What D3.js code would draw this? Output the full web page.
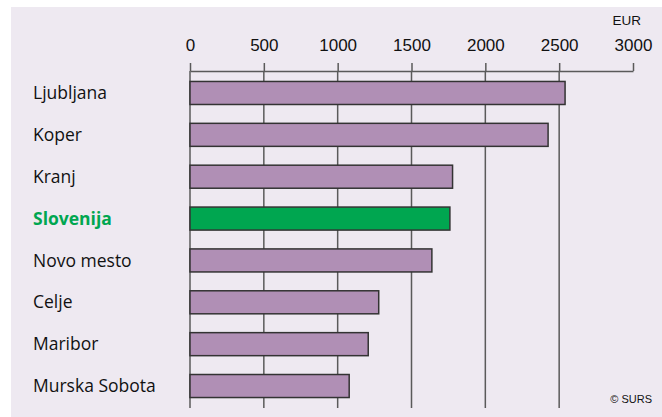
<!DOCTYPE html>
<html>
<head>
<meta charset="utf-8">
<script src="https://cdn.jsdelivr.net/npm/d3@7"></script>
<style>
  body { margin: 0; background: #fff; }
  .cat { font-family: "Open Sans", "Noto Sans", sans-serif; font-size: 17.5px; fill: #111; }
  .tick-label { font-family: "Liberation Sans", Arial, sans-serif; font-size: 17px; fill: #111; }
</style>
</head>
<body>
<svg id="chart" width="662" height="417"></svg>
<script>
// ----------

const CATEGORIES = ["Ljubljana", "Koper", "Kranj", "Slovenija", "Novo mesto", "Celje", "Maribor", "Murska Sobota"];
const VALUES = [2540, 2425, 1778, 1760, 1638, 1278, 1207, 1078];
const TICKS = [0, 500, 1000, 1500, 2000, 2500, 3000];
const HIGHLIGHT = "Slovenija";

const PANEL_COLOR = "#eee9f1";
const BAR_COLOR = "#b08fb5";
const HIGHLIGHT_COLOR = "#00a650";
const LINE_COLOR = "#5a5a5a";

// ----------

const svg = d3.select("#chart");

svg.append("rect")
  .attr("x", 11).attr("y", 7)
  .attr("width", 651).attr("height", 410)
  .attr("fill", PANEL_COLOR);

const x = d3.scaleLinear().domain([0, 3000]).range([190, 633]);
const y = d3.scaleBand().domain(CATEGORIES).range([71, 408]).paddingInner(0.45).paddingOuter(0.25);

const axisY = 71;
const gridBottom = 408;

// gridlines (not at 3000)
svg.append("g")
  .selectAll("line")
  .data(TICKS.filter(t => t < 3000))
  .join("line")
  .attr("x1", d => x(d)).attr("x2", d => x(d))
  .attr("y1", axisY).attr("y2", gridBottom)
  .attr("stroke", LINE_COLOR)
  .attr("stroke-width", 1.5);

// axis on top
const axis = d3.axisTop(x).tickValues(TICKS).tickFormat(d3.format("d"))
  .tickSize(8).tickSizeOuter(0).tickPadding(12);
const gAxis = svg.append("g").attr("transform", `translate(0,${axisY})`).call(axis);
gAxis.select(".domain").attr("stroke", LINE_COLOR).attr("stroke-width", 1.5);
gAxis.selectAll(".tick line").attr("stroke", LINE_COLOR).attr("stroke-width", 1.5);
gAxis.selectAll(".tick text")
  .attr("class", "tick-label")
  .attr("font-family", null).attr("font-size", null);

svg.append("text")
  .attr("x", 641).attr("y", 25)
  .attr("text-anchor", "end")
  .attr("font-family", "Liberation Sans, Arial, sans-serif")
  .attr("font-size", 13.5)
  .attr("fill", "#111")
  .text("EUR");

// bars
svg.append("g")
  .selectAll("rect")
  .data(CATEGORIES)
  .join("rect")
  .attr("x", x(0))
  .attr("y", d => y(d))
  .attr("width", (d, i) => x(VALUES[i]) - x(0))
  .attr("height", y.bandwidth())
  .attr("fill", d => d === HIGHLIGHT ? HIGHLIGHT_COLOR : BAR_COLOR)
  .attr("stroke", "#333")
  .attr("stroke-width", 1.5);

// category labels
svg.append("g")
  .selectAll("text")
  .data(CATEGORIES)
  .join("text")
  .attr("class", "cat")
  .attr("x", 33)
  .attr("y", d => y(d) + y.bandwidth() / 2)
  .attr("dy", "0.35em")
  .attr("font-weight", d => d === HIGHLIGHT ? "bold" : null)
  .style("fill", d => d === HIGHLIGHT ? HIGHLIGHT_COLOR : null)
  .text(d => d);

svg.append("text")
  .attr("x", 652).attr("y", 403)
  .attr("text-anchor", "end")
  .attr("font-family", "Liberation Sans, Arial, sans-serif")
  .attr("font-size", 11)
  .attr("fill", "#111")
  .text("© SURS");
</script>
</body>
</html>
